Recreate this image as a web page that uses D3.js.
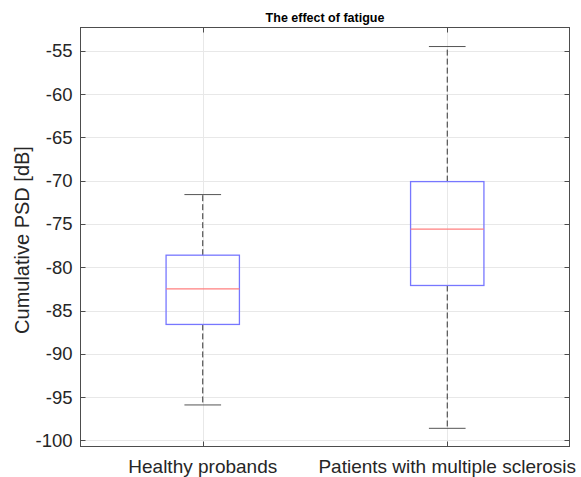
<!DOCTYPE html>
<html>
<head>
<meta charset="utf-8">
<script src="https://cdn.jsdelivr.net/npm/d3@7"></script>
<style>
  html, body { margin: 0; padding: 0; background: #fff; }
  svg { display: block; font-family: 'Liberation Sans', Arial, Helvetica, sans-serif; }
</style>
</head>
<body>
<svg id="chart" width="581" height="477"></svg>
<script>
const categories = ['Healthy probands', 'Patients with multiple sclerosis']
const whiskerLow = [-95.9, -98.6]
const q1 = [-86.6, -82.1]
const medians = [-82.5, -75.6]
const q3 = [-78.6, -70.1]
const whiskerHigh = [-71.6, -54.5]
const yTicks = [-100, -95, -90, -85, -80, -75, -70, -65, -60, -55]

const W = 581, H = 477
const AX = { left: 80.5, right: 569.5, top: 27.5, bottom: 446.5 }
const BOX_W = 0.3, CAP_W = 0.15

const svg = d3.select('#chart')
svg.append('rect').attr('width', W).attr('height', H).attr('fill', '#fff')

const x = d3.scaleLinear().domain([0.5, 2.5]).range([AX.left, AX.right])
const y = d3.scaleLinear().domain([-100.7, -52.3]).range([AX.bottom, AX.top])

const stats = categories.map((c, i) => ({
  name: c, pos: i + 1,
  lo: whiskerLow[i], q1: q1[i], med: medians[i], q3: q3[i], hi: whiskerHigh[i],
}))

// grid
const gGrid = svg.append('g')
gGrid.selectAll('line.gy').data(yTicks).enter().append('line').attr('class', 'gy')
  .attr('x1', AX.left).attr('x2', AX.right)
  .attr('y1', d => Math.round(y(d)) + 0.5).attr('y2', d => Math.round(y(d)) + 0.5)
  .attr('stroke', '#e8e8e8').attr('stroke-width', 1)
gGrid.selectAll('line.gx').data(stats).enter().append('line').attr('class', 'gx')
  .attr('x1', d => Math.round(x(d.pos)) + 0.5).attr('x2', d => Math.round(x(d.pos)) + 0.5)
  .attr('y1', AX.top).attr('y2', AX.bottom)
  .attr('stroke', '#e8e8e8').attr('stroke-width', 1)

// boxes
const gBox = svg.append('g')
const boxes = gBox.selectAll('g.box').data(stats).enter().append('g').attr('class', 'box')

boxes.append('line') // upper whisker
  .attr('x1', d => x(d.pos)).attr('x2', d => x(d.pos))
  .attr('y1', d => y(d.q3)).attr('y2', d => y(d.hi))
  .attr('stroke', '#333').attr('stroke-width', 1).attr('stroke-dasharray', '6,3')
boxes.append('line') // lower whisker
  .attr('x1', d => x(d.pos)).attr('x2', d => x(d.pos))
  .attr('y1', d => y(d.q1)).attr('y2', d => y(d.lo))
  .attr('stroke', '#333').attr('stroke-width', 1).attr('stroke-dasharray', '6,3')
boxes.append('line') // upper cap
  .attr('x1', d => x(d.pos - CAP_W / 2)).attr('x2', d => x(d.pos + CAP_W / 2))
  .attr('y1', d => y(d.hi)).attr('y2', d => y(d.hi))
  .attr('stroke', '#555').attr('stroke-width', 1)
boxes.append('line') // lower cap
  .attr('x1', d => x(d.pos - CAP_W / 2)).attr('x2', d => x(d.pos + CAP_W / 2))
  .attr('y1', d => y(d.lo)).attr('y2', d => y(d.lo))
  .attr('stroke', '#555').attr('stroke-width', 1)
boxes.append('rect')
  .attr('x', d => x(d.pos - BOX_W / 2)).attr('width', d => x(d.pos + BOX_W / 2) - x(d.pos - BOX_W / 2))
  .attr('y', d => y(d.q3)).attr('height', d => y(d.q1) - y(d.q3))
  .attr('fill', 'none').attr('stroke', '#7777ff').attr('stroke-width', 1.3)
boxes.append('line') // median
  .attr('x1', d => x(d.pos - BOX_W / 2)).attr('x2', d => x(d.pos + BOX_W / 2))
  .attr('y1', d => y(d.med)).attr('y2', d => y(d.med))
  .attr('stroke', '#ff7f7f').attr('stroke-width', 1.3)

// axes
const gAxes = svg.append('g').attr('stroke', '#4d4d4d').attr('stroke-width', 1)
gAxes.append('rect')
  .attr('x', AX.left).attr('y', AX.top)
  .attr('width', AX.right - AX.left).attr('height', AX.bottom - AX.top)
  .attr('fill', 'none')
yTicks.forEach(t => {
  const yy = Math.round(y(t)) + 0.5
  gAxes.append('line').attr('x1', AX.left).attr('x2', AX.left + 5).attr('y1', yy).attr('y2', yy)
  gAxes.append('line').attr('x1', AX.right - 5).attr('x2', AX.right).attr('y1', yy).attr('y2', yy)
})
stats.forEach(d => {
  const xx = Math.round(x(d.pos)) + 0.5
  gAxes.append('line').attr('x1', xx).attr('x2', xx).attr('y1', AX.bottom).attr('y2', AX.bottom - 5)
  gAxes.append('line').attr('x1', xx).attr('x2', xx).attr('y1', AX.top).attr('y2', AX.top + 5)
})

// tick labels
svg.append('g').selectAll('text').data(yTicks).enter().append('text')
  .attr('x', AX.left - 8).attr('y', d => y(d)).attr('dy', '0.35em')
  .attr('text-anchor', 'end').attr('font-size', 18.5).attr('fill', '#262626')
  .text(d => d)
svg.append('g').selectAll('text').data(stats).enter().append('text')
  .attr('x', d => x(d.pos)).attr('y', 473)
  .attr('text-anchor', 'middle').attr('font-size', 19).attr('fill', '#262626')
  .text(d => d.name)

// labels
svg.append('text')
  .attr('transform', 'rotate(-90)')
  .attr('x', -(AX.top + AX.bottom) / 2 - 3).attr('y', 29)
  .attr('text-anchor', 'middle').attr('font-size', 20).attr('fill', '#262626')
  .text('Cumulative PSD [dB]')
svg.append('text')
  .attr('x', (AX.left + AX.right) / 2).attr('y', 21.5)
  .attr('text-anchor', 'middle').attr('font-size', 12.5).attr('font-weight', 'bold').attr('fill', '#000')
  .text('The effect of fatigue')
</script>
</body>
</html>
